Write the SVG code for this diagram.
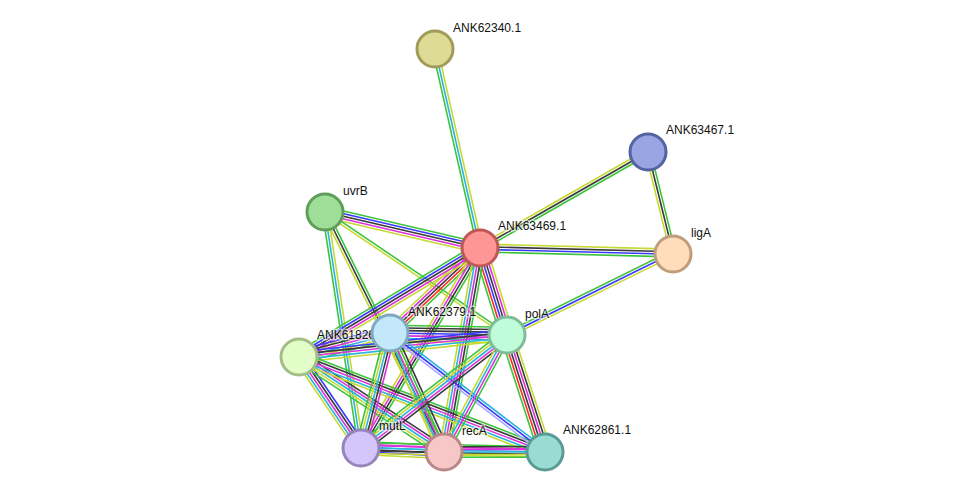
<svg xmlns="http://www.w3.org/2000/svg" width="976" height="498" viewBox="0 0 976 498">
<style>
line{stroke-width:1.6;fill:none}
.g{stroke:#3dc43d}.b{stroke:#3a3aff}.k{stroke:#3a3a3a}.m{stroke:#dd33dd}
.c{stroke:#2bb5dd}.y{stroke:#c6d932}.r{stroke:#ff2a2a}.p{stroke:#a8a8ff}
circle{stroke-width:3}
text{font-family:"Liberation Sans",Arial,sans-serif;font-size:12px;fill:#111;stroke:#fff;stroke-width:3;stroke-opacity:0.55;paint-order:stroke;stroke-linejoin:round}
</style>
<rect width="976" height="498" fill="#fff"/>
<g id="connectors">
<g transform="translate(435 49) rotate(77.26)"><line x2="204" y1="-2.6" y2="-2.6" class="y"/><line x2="204" class="c"/><line x2="204" y1="2.6" y2="2.6" class="g"/></g>
<g transform="translate(480 248) rotate(-29.74)"><line x2="193.5" y1="-2.6" y2="-2.6" class="y"/><line x2="193.5" class="k"/><line x2="193.5" y1="2.6" y2="2.6" class="g"/></g>
<g transform="translate(648 152) rotate(76.10)"><line x2="104" y1="2.6" y2="2.6" class="y"/><line x2="104" class="k"/><line x2="104" y1="-2.6" y2="-2.6" class="g"/></g>
<g transform="translate(480 248) rotate(1.48)"><line x2="193" y1="-3.9" y2="-3.9" class="y"/><line x2="193" y1="-1.3" y2="-1.3" class="k"/><line x2="193" y1="1.3" y2="1.3" class="b"/><line x2="193" y1="3.9" y2="3.9" class="g"/></g>
<g transform="translate(507 335) rotate(-26.29)"><line x2="185" y1="-2.6" y2="-2.6" class="g"/><line x2="185" class="b"/><line x2="185" y1="2.6" y2="2.6" class="y"/></g>
<g transform="translate(325 212) rotate(13.08)"><line x2="159" y1="-5.2" y2="-5.2" class="g"/><line x2="159" y1="-2.6" y2="-2.6" class="b"/><line x2="159" class="k"/><line x2="159" y1="2.6" y2="2.6" class="m"/><line x2="159" y1="5.2" y2="5.2" class="y"/></g>
<g transform="translate(325 212) rotate(34.05)"><line x2="219.7" y1="-1.3" y2="-1.3" class="g"/><line x2="219.7" y1="1.3" y2="1.3" class="y"/></g>
<g transform="translate(325 212) rotate(81.33)"><line x2="238.7" y1="-2.6" y2="-2.6" class="y"/><line x2="238.7" class="c"/><line x2="238.7" y1="2.6" y2="2.6" class="g"/></g>
<g transform="translate(325 212) rotate(63.63)"><line x2="267.9" y1="-2.6" y2="-2.6" class="g"/><line x2="267.9" class="k"/><line x2="267.9" y1="2.6" y2="2.6" class="y"/></g>
<g transform="translate(480 248) rotate(136.64)"><line x2="123.8" y1="-5.2" y2="-5.2" class="g"/><line x2="123.8" y1="-2.6" y2="-2.6" class="r"/><line x2="123.8" class="k"/><line x2="123.8" y1="2.6" y2="2.6" class="m"/><line x2="123.8" y1="5.2" y2="5.2" class="y"/></g>
<g transform="translate(480 248) rotate(148.94)"><line x2="211.3" y1="5.2" y2="5.2" class="g"/><line x2="211.3" y1="2.6" y2="2.6" class="b"/><line x2="211.3" class="k"/><line x2="211.3" y1="-2.6" y2="-2.6" class="m"/><line x2="211.3" y1="-5.2" y2="-5.2" class="y"/></g>
<g transform="translate(480 248) rotate(72.76)"><line x2="91.1" y1="6.5" y2="6.5" class="g"/><line x2="91.1" y1="3.9" y2="3.9" class="r"/><line x2="91.1" y1="1.3" y2="1.3" class="b"/><line x2="91.1" y1="-1.3" y2="-1.3" class="k"/><line x2="91.1" y1="-3.9" y2="-3.9" class="m"/><line x2="91.1" y1="-6.5" y2="-6.5" class="y"/></g>
<g transform="translate(480 248) rotate(120.75)"><line x2="232.7" y1="-3.9" y2="-3.9" class="g"/><line x2="232.7" y1="-1.3" y2="-1.3" class="k"/><line x2="232.7" y1="1.3" y2="1.3" class="m"/><line x2="232.7" y1="3.9" y2="3.9" class="y"/></g>
<g transform="translate(480 248) rotate(100.01)"><line x2="207.2" y1="-5.2" y2="-5.2" class="g"/><line x2="207.2" y1="-2.6" y2="-2.6" class="k"/><line x2="207.2" class="m"/><line x2="207.2" y1="2.6" y2="2.6" class="c"/><line x2="207.2" y1="5.2" y2="5.2" class="y"/></g>
<g transform="translate(390 333) rotate(0.98)"><line x2="117" y1="-7.8" y2="-7.8" class="g"/><line x2="117" y1="-5.2" y2="-5.2" class="k"/><line x2="117" y1="-2.6" y2="-2.6" class="k"/><line x2="117" class="b"/><line x2="117" y1="2.6" y2="2.6" class="m"/><line x2="117" y1="5.2" y2="5.2" class="c"/><line x2="117" y1="7.8" y2="7.8" class="y"/></g>
<g transform="translate(299 357) rotate(-14.77)"><line x2="94.1" y1="-6.5" y2="-6.5" class="b"/><line x2="94.1" y1="-3.9" y2="-3.9" class="k"/><line x2="94.1" y1="-1.3" y2="-1.3" class="m"/><line x2="94.1" y1="1.3" y2="1.3" class="c"/><line x2="94.1" y1="3.9" y2="3.9" class="y"/><line x2="94.1" y1="6.5" y2="6.5" class="g"/></g>
<g transform="translate(299 357) rotate(-6.04)"><line x2="209.2" y1="-5.2" y2="-5.2" class="b"/><line x2="209.2" y1="-2.6" y2="-2.6" class="k"/><line x2="209.2" class="m"/><line x2="209.2" y1="2.6" y2="2.6" class="c"/><line x2="209.2" y1="5.2" y2="5.2" class="y"/></g>
<g transform="translate(299 357) rotate(55.73)"><line x2="110.1" y1="-5.2" y2="-5.2" class="b"/><line x2="110.1" y1="-2.6" y2="-2.6" class="k"/><line x2="110.1" class="m"/><line x2="110.1" y1="2.6" y2="2.6" class="c"/><line x2="110.1" y1="5.2" y2="5.2" class="y"/></g>
<g transform="translate(299 357) rotate(33.23)"><line x2="173.3" y1="-5.2" y2="-5.2" class="k"/><line x2="173.3" y1="-2.6" y2="-2.6" class="m"/><line x2="173.3" class="c"/><line x2="173.3" y1="2.6" y2="2.6" class="y"/><line x2="173.3" y1="5.2" y2="5.2" class="g"/></g>
<g transform="translate(299 357) rotate(21.12)"><line x2="263.7" y1="-5.2" y2="-5.2" class="g"/><line x2="263.7" y1="-2.6" y2="-2.6" class="k"/><line x2="263.7" class="m"/><line x2="263.7" y1="2.6" y2="2.6" class="c"/><line x2="263.7" y1="5.2" y2="5.2" class="y"/></g>
<g transform="translate(390 333) rotate(104.15)"><line x2="118.6" y1="-5.2" y2="-5.2" class="m"/><line x2="118.6" y1="-2.6" y2="-2.6" class="k"/><line x2="118.6" class="c"/><line x2="118.6" y1="2.6" y2="2.6" class="y"/><line x2="118.6" y1="5.2" y2="5.2" class="g"/></g>
<g transform="translate(390 333) rotate(65.59)"><line x2="130.7" y1="-5.2" y2="-5.2" class="k"/><line x2="130.7" y1="-2.6" y2="-2.6" class="g"/><line x2="130.7" class="m"/><line x2="130.7" y1="2.6" y2="2.6" class="c"/><line x2="130.7" y1="5.2" y2="5.2" class="y"/></g>
<g transform="translate(390 333) rotate(37.52)"><line x2="195.4" y1="-2.6" y2="-2.6" class="c"/><line x2="195.4" class="b"/><line x2="195.4" y1="2.6" y2="2.6" class="p"/></g>
<g transform="translate(507 335) rotate(142.26)"><line x2="184.6" y1="-5.2" y2="-5.2" class="k"/><line x2="184.6" y1="-2.6" y2="-2.6" class="m"/><line x2="184.6" class="c"/><line x2="184.6" y1="2.6" y2="2.6" class="y"/><line x2="184.6" y1="5.2" y2="5.2" class="g"/></g>
<g transform="translate(507 335) rotate(118.30)"><line x2="132.9" y1="-3.9" y2="-3.9" class="g"/><line x2="132.9" y1="-1.3" y2="-1.3" class="m"/><line x2="132.9" y1="1.3" y2="1.3" class="c"/><line x2="132.9" y1="3.9" y2="3.9" class="y"/></g>
<g transform="translate(507 335) rotate(72.01)"><line x2="123" y1="6.5" y2="6.5" class="g"/><line x2="123" y1="3.9" y2="3.9" class="r"/><line x2="123" y1="1.3" y2="1.3" class="k"/><line x2="123" y1="-1.3" y2="-1.3" class="m"/><line x2="123" y1="-3.9" y2="-3.9" class="k"/><line x2="123" y1="-6.5" y2="-6.5" class="y"/></g>
<g transform="translate(361 448) rotate(2.76)"><line x2="83.1" y1="-6.5" y2="-6.5" class="g"/><line x2="83.1" y1="-3.9" y2="-3.9" class="m"/><line x2="83.1" y1="-1.3" y2="-1.3" class="c"/><line x2="83.1" y1="1.3" y2="1.3" class="k"/><line x2="83.1" y1="3.9" y2="3.9" class="b"/><line x2="83.1" y1="6.5" y2="6.5" class="y"/></g>
<g transform="translate(361 448) rotate(1.25)"><line x2="184" y1="-5.2" y2="-5.2" class="g"/><line x2="184" y1="-2.6" y2="-2.6" class="m"/><line x2="184" class="c"/><line x2="184" y1="2.6" y2="2.6" class="k"/><line x2="184" y1="5.2" y2="5.2" class="y"/></g>
<g transform="translate(444 452)"><line x2="101" y1="-5.2" y2="-5.2" class="k"/><line x2="101" y1="-2.6" y2="-2.6" class="m"/><line x2="101" class="c"/><line x2="101" y1="2.6" y2="2.6" class="y"/><line x2="101" y1="5.2" y2="5.2" class="g"/></g>
</g>
<g id="ANK62340.1"><circle cx="435" cy="49" r="18" fill="#dedb96" stroke="#a09c58"/><text x="453" y="32">ANK62340.1</text></g>
<g id="ANK63467.1"><circle cx="648" cy="152" r="18" fill="#98a5e0" stroke="#5562a0"/><text x="666" y="134">ANK63467.1</text></g>
<g id="uvrB"><circle cx="325" cy="212" r="18" fill="#9fde98" stroke="#5f9e58"/><text x="343" y="195">uvrB</text></g>
<g id="ANK63469.1"><circle cx="480" cy="248" r="18" fill="#ff9696" stroke="#c05858"/><text x="498" y="230">ANK63469.1</text></g>
<g id="ligA"><circle cx="673" cy="254" r="18" fill="#ffddbb" stroke="#bf9d7b"/><text x="691" y="237">ligA</text></g>
<g id="ANK61826.1"><circle cx="299" cy="357" r="18" fill="#e2fdc8" stroke="#a2bd88"/><text x="317" y="339">ANK61826.1</text></g>
<g id="ANK62379.1"><circle cx="390" cy="333" r="18" fill="#c3e7fb" stroke="#80a8be"/><text x="408" y="316">ANK62379.1</text></g>
<g id="polA"><circle cx="507" cy="335" r="18" fill="#c0fcda" stroke="#80bc9a"/><text x="525" y="318">polA</text></g>
<g id="mutL"><circle cx="361" cy="448" r="18" fill="#d4c6fb" stroke="#9486bb"/><text x="379" y="430">mutL</text></g>
<g id="recA"><circle cx="444" cy="452" r="18" fill="#f7c7c7" stroke="#b88888"/><text x="462" y="435">recA</text></g>
<g id="ANK62861.1"><circle cx="545" cy="452" r="18" fill="#98dcd4" stroke="#5a9c94"/><text x="563" y="434">ANK62861.1</text></g>
</svg>
